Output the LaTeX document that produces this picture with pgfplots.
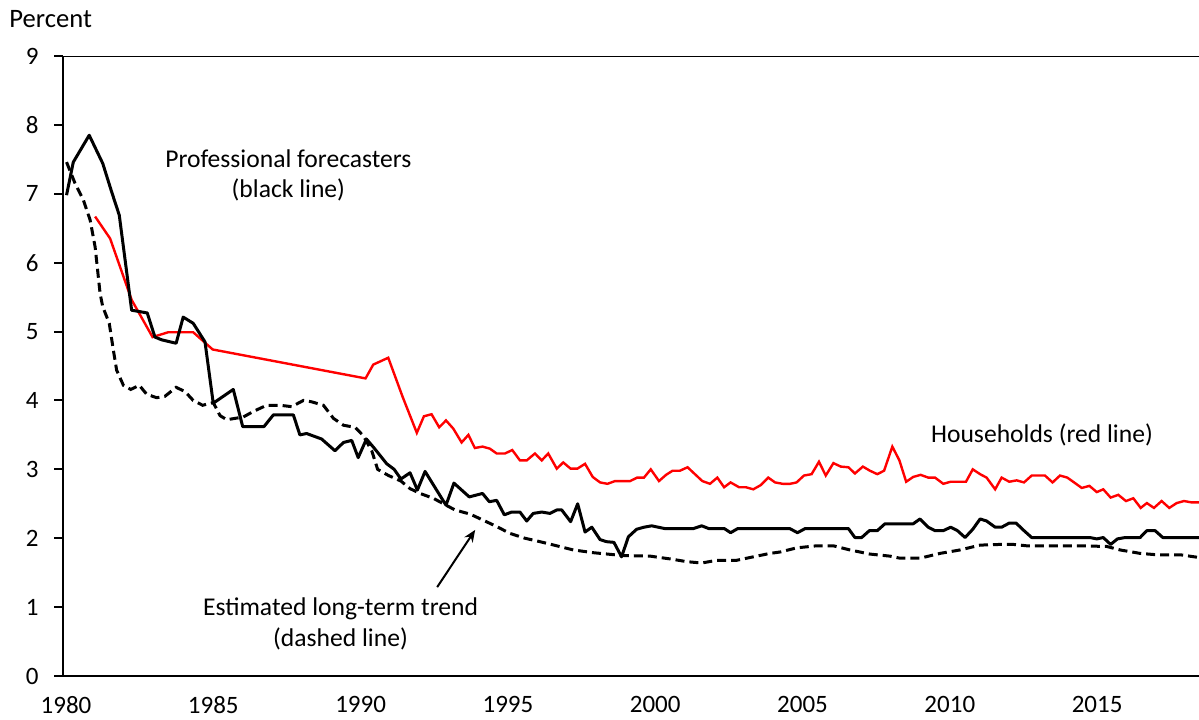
\documentclass[border=0pt]{standalone}
\usepackage{fontspec}
\setmainfont{Carlito}
\usepackage{pgfplots}
\pgfplotsset{compat=1.18}
\usetikzlibrary{arrows.meta}
\begin{document}
\begin{tikzpicture}
\useasboundingbox (0,0) rectangle (599.5pt,359.5pt);
\node[anchor=west, inner sep=0pt, font=\fontsize{13.3}{15}\selectfont] at (4.5pt,350pt) {Percent};
\begin{axis}[
  at={(31.5pt,21.5pt)}, anchor=south west,
  scale only axis, width=568pt, height=310pt,
  xmin=1980, xmax=2018.56, ymin=0, ymax=9,
  axis x line*=bottom, axis y line*=left,
  axis line style={line width=1.2pt,-},
  xtick={1980,1985,1990,1995,2000,2005,2010,2015},
  xticklabels={1980,1985,1990,1995,2000,2005,2010,2015},
  ytick={0,1,2,3,4,5,6,7,8,9},
  x tick style={draw=none},
  y tick style={line width=1pt, black},
  ytick align=outside, major tick length=4.5pt,
  tick label style={font=\fontsize{12.5}{14}\selectfont, /pgf/number format/assume math mode=true},
  yticklabel style={inner sep=0pt, anchor=east, xshift=-7.5pt},
  xticklabel style={inner sep=0pt, anchor=north, yshift=-10pt, xshift=1.5pt},
  clip=true,
]
\draw[line width=1.2pt] (rel axis cs:0,1) -- (rel axis cs:1,1);
% Estimated long-term trend (dashed)
\addplot[black, line width=1.5pt, dash pattern=on 4.5pt off 2.5pt] coordinates {
(1980.12,7.46) (1980.41,7.15) (1980.69,6.91) (1980.92,6.62) (1981.09,6.23) (1981.26,5.55)
(1981.35,5.36) (1981.57,5.12) (1981.71,4.73) (1981.82,4.44) (1982.05,4.22) (1982.30,4.16)
(1982.59,4.22) (1982.84,4.09) (1983.18,4.04) (1983.46,4.06) (1983.84,4.19) (1984.14,4.13)
(1984.42,4.00) (1984.74,3.93) (1985.10,3.97) (1985.33,3.78) (1985.56,3.72) (1986.12,3.76)
(1986.46,3.84) (1986.91,3.93) (1987.37,3.93) (1987.76,3.91) (1988.16,4.00) (1988.44,3.98)
(1988.84,3.93) (1989.18,3.74) (1989.52,3.64) (1989.91,3.61) (1990.19,3.49) (1990.48,3.27)
(1990.68,3.00) (1991.05,2.91) (1991.47,2.83) (1991.78,2.72) (1992.12,2.65) (1992.57,2.58)
(1993.00,2.48) (1993.31,2.41) (1993.82,2.35) (1994.27,2.26) (1994.72,2.17) (1995.17,2.07)
(1995.68,2.00) (1996.19,1.95) (1996.76,1.89) (1997.32,1.83) (1998.00,1.79) (1998.96,1.75)
(1999.93,1.74) (2000.60,1.70) (2001.17,1.66) (2001.68,1.64) (2002.19,1.68) (2002.87,1.68)
(2003.43,1.73) (2004.00,1.78) (2004.34,1.80) (2004.90,1.86) (2005.58,1.89) (2006.15,1.89)
(2006.71,1.83) (2007.39,1.77) (2008.07,1.74) (2008.41,1.71) (2009.09,1.71) (2009.77,1.78)
(2010.45,1.83) (2011.13,1.90) (2011.81,1.91) (2012.26,1.91) (2012.71,1.89) (2014.52,1.89)
(2015.43,1.88) (2015.88,1.83) (2016.56,1.78) (2017.12,1.76) (2017.92,1.76) (2018.56,1.72)
};
% Households (red)
\addplot[red, line width=1.2pt] coordinates {
(1981.09,6.67) (1981.60,6.35) (1982.33,5.46) (1983.04,4.92) (1983.57,4.99) (1984.42,4.99)
(1985.08,4.74) (1990.27,4.32) (1990.53,4.52) (1991.04,4.62) (1991.53,4.05) (1992.01,3.53)
(1992.25,3.77) (1992.51,3.80) (1992.77,3.61) (1993.00,3.71) (1993.25,3.59) (1993.53,3.39)
(1993.76,3.50) (1993.98,3.31) (1994.24,3.33) (1994.49,3.30) (1994.72,3.23) (1995.00,3.23)
(1995.25,3.28) (1995.51,3.13) (1995.74,3.13) (1996.02,3.23) (1996.25,3.13) (1996.47,3.23)
(1996.76,3.01) (1996.98,3.10) (1997.23,3.01) (1997.46,3.01) (1997.72,3.08) (1997.98,2.89)
(1998.23,2.81) (1998.48,2.79) (1998.74,2.83) (1999.25,2.83) (1999.49,2.88) (1999.72,2.88)
(1999.95,3.00) (2000.23,2.83) (2000.47,2.92) (2000.69,2.98) (2000.94,2.98) (2001.20,3.03)
(2001.45,2.93) (2001.70,2.83) (2001.96,2.79) (2002.21,2.88) (2002.44,2.74) (2002.66,2.81)
(2002.95,2.74) (2003.18,2.74) (2003.43,2.71) (2003.68,2.77) (2003.94,2.88) (2004.17,2.81)
(2004.43,2.79) (2004.68,2.79) (2004.90,2.81) (2005.15,2.91) (2005.41,2.93) (2005.66,3.11)
(2005.89,2.91) (2006.15,3.09) (2006.40,3.04) (2006.66,3.03) (2006.88,2.94) (2007.15,3.04)
(2007.39,2.98) (2007.64,2.93) (2007.87,2.98) (2008.15,3.33) (2008.39,3.13) (2008.62,2.82)
(2008.86,2.89) (2009.11,2.92) (2009.37,2.88) (2009.60,2.88) (2009.88,2.79) (2010.13,2.82)
(2010.65,2.82) (2010.88,3.00) (2011.13,2.93) (2011.35,2.88) (2011.64,2.71) (2011.86,2.88)
(2012.12,2.82) (2012.37,2.84) (2012.62,2.81) (2012.88,2.91) (2013.33,2.91) (2013.59,2.81)
(2013.84,2.91) (2014.09,2.88) (2014.32,2.81) (2014.58,2.73) (2014.84,2.76) (2015.09,2.67)
(2015.31,2.71) (2015.56,2.59) (2015.82,2.63) (2016.08,2.54) (2016.33,2.58) (2016.58,2.44)
(2016.79,2.51) (2017.03,2.44) (2017.29,2.54) (2017.55,2.44) (2017.80,2.51) (2018.05,2.54)
(2018.31,2.52) (2018.56,2.52)
};
% Professional forecasters (black)
\addplot[black, line width=1.5pt, line join=round] coordinates {
(1980.12,6.98) (1980.35,7.46) (1980.89,7.85) (1981.35,7.44) (1981.65,7.03) (1981.91,6.69)
(1982.33,5.31) (1982.86,5.27) (1983.12,4.92) (1983.35,4.88) (1983.84,4.83) (1984.08,5.21)
(1984.42,5.12) (1984.82,4.85) (1985.10,3.96) (1985.78,4.16) (1986.10,3.62) (1986.82,3.62)
(1987.14,3.79) (1987.82,3.79) (1988.04,3.50) (1988.27,3.52) (1988.78,3.44) (1989.23,3.27)
(1989.52,3.39) (1989.80,3.42) (1990.02,3.17) (1990.30,3.44) (1990.56,3.31) (1990.99,3.08)
(1991.24,3.00) (1991.47,2.86) (1991.78,2.95) (1992.03,2.70) (1992.29,2.97) (1992.68,2.70)
(1993.00,2.48) (1993.27,2.80) (1993.53,2.70) (1993.79,2.60) (1994.24,2.65) (1994.47,2.53)
(1994.72,2.55) (1994.98,2.34) (1995.23,2.38) (1995.51,2.38) (1995.74,2.25) (1995.96,2.36)
(1996.25,2.38) (1996.53,2.36) (1996.76,2.41) (1996.93,2.41) (1997.23,2.24) (1997.47,2.50)
(1997.72,2.09) (1997.95,2.16) (1998.23,1.98) (1998.45,1.95) (1998.70,1.94) (1998.96,1.73)
(1999.19,2.02) (1999.47,2.13) (1999.72,2.16) (1999.98,2.18) (2000.43,2.14) (2001.40,2.14)
(2001.68,2.18) (2001.92,2.14) (2002.45,2.14) (2002.66,2.08) (2002.90,2.14) (2004.67,2.14)
(2004.93,2.08) (2005.19,2.14) (2006.66,2.14) (2006.88,2.01) (2007.11,2.01) (2007.37,2.11)
(2007.64,2.11) (2007.90,2.21) (2008.86,2.21) (2009.09,2.28) (2009.37,2.16) (2009.60,2.11)
(2009.88,2.11) (2010.13,2.16) (2010.36,2.11) (2010.62,2.01) (2010.88,2.13) (2011.13,2.28)
(2011.35,2.25) (2011.64,2.16) (2011.86,2.16) (2012.12,2.22) (2012.35,2.22) (2012.62,2.11)
(2012.88,2.01) (2014.86,2.01) (2015.09,1.99) (2015.31,2.01) (2015.56,1.91) (2015.79,1.99)
(2016.05,2.01) (2016.56,2.01) (2016.79,2.11) (2017.07,2.11) (2017.33,2.01) (2018.56,2.01)
};
\node[font=\fontsize{12.8}{15}\selectfont, align=center] at (axis cs:1987.65,7.27) {Professional forecasters\\(black line)};
\node[font=\fontsize{12.8}{15}\selectfont] at (axis cs:2013.23,3.50) {Households (red line)};
\node[font=\fontsize{12.8}{15.8}\selectfont, align=center] at (axis cs:1989.42,0.755) {Estimated long-term trend\\(dashed line)};
\draw[-{Stealth[length=6pt,width=5pt]}, line width=1pt] (axis cs:1992.70,1.29) -- (axis cs:1993.99,2.12);
\end{axis}
\end{tikzpicture}
\end{document}
